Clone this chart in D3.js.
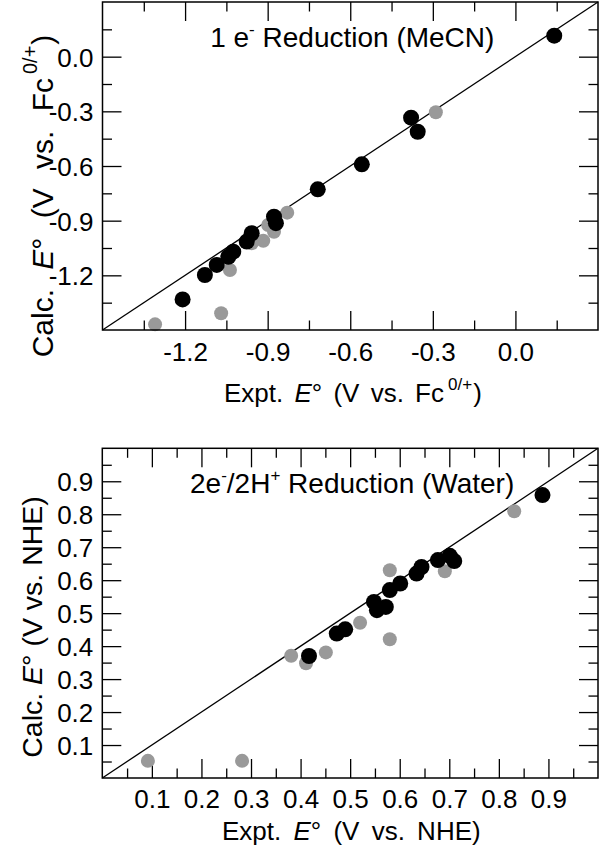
<!DOCTYPE html>
<html>
<head>
<meta charset="utf-8">
<script src="https://cdn.jsdelivr.net/npm/d3@7"></script>
<style>
  body { margin: 0; background: #fff; }
  svg { display: block; font-family: "Liberation Sans", Arial, Helvetica, sans-serif; }
  text { white-space: pre; }
</style>
</head>
<body>
<svg id="chart" width="600" height="845"></svg>
<script>
// panel 1: 1 e- reduction in MeCN, V vs Fc0/+
const mecnExptBlack = [0.141, -0.379, -0.355, -0.558, -0.718, -0.877, -0.870, -0.958, -0.976, -1.025, -1.043, -1.085, -1.128, -1.209];
const mecnCalcBlack = [0.115, -0.335, -0.412, -0.591, -0.728, -0.878, -0.914, -0.969, -1.015, -1.070, -1.098, -1.143, -1.198, -1.332];
const mecnExptGray = [-0.289, -0.829, -0.898, -0.877, -0.916, -0.958, -1.037, -1.069, -1.309];
const mecnCalcGray = [-0.305, -0.856, -0.924, -0.961, -1.010, -1.024, -1.171, -1.408, -1.469];
const mecnDomain = [-1.5, 0.3];
const mecnMajor = [-1.2, -0.9, -0.6, -0.3, 0.0];
const mecnMinor = [-1.35, -1.05, -0.75, -0.45, -0.15, 0.15];

// panel 2: 2e-/2H+ reduction in water, V vs NHE
const waterExptBlack = [0.888, 0.701, 0.710, 0.677, 0.644, 0.634, 0.601, 0.580, 0.572, 0.548, 0.554, 0.490, 0.473, 0.417];
const waterCalcBlack = [0.858, 0.674, 0.658, 0.661, 0.640, 0.620, 0.590, 0.570, 0.519, 0.534, 0.509, 0.451, 0.438, 0.370];
const waterExptGray = [0.831, 0.580, 0.691, 0.520, 0.580, 0.451, 0.381, 0.411, 0.092, 0.282];
const waterCalcGray = [0.809, 0.630, 0.627, 0.471, 0.421, 0.381, 0.371, 0.348, 0.052, 0.052];
const waterDomain = [0, 1];
const waterMajor = [0.1, 0.2, 0.3, 0.4, 0.5, 0.6, 0.7, 0.8, 0.9];
const waterMinor = [0.05, 0.15, 0.25, 0.35, 0.45, 0.55, 0.65, 0.75, 0.85, 0.95];

const svg = d3.select('#chart');
const fmt = d => d.toFixed(1); // plain hyphen, not d3's unicode minus
const MAJ = 19, MIN = 9.5;

// parts: [{t, it, sup}] -> tspans, superscripts shifted up by `shift`
function richText(sel, parts, supSize, shift) {
  let up = false;
  parts.forEach(p => {
    const ts = sel.append('tspan').text(p.t);
    if (p.it) ts.attr('font-style', 'italic');
    if (p.sup) {
      ts.attr('font-size', supSize);
      if (!up) { ts.attr('dy', -shift); up = true; }
    } else if (up) {
      ts.attr('dy', shift); up = false;
    }
    if (p.dx) ts.attr('dx', p.dx);
  });
  return sel;
}

function drawPanel(o) {
  const x = d3.scaleLinear().domain(o.domain).range([o.left, o.right]);
  const y = d3.scaleLinear().domain(o.domain).range([o.bottom, o.top]);
  const g = svg.append('g');

  const sides = [
    [d3.axisBottom, x, `translate(0,${o.bottom})`, true],
    [d3.axisTop, x, `translate(0,${o.top})`, false],
    [d3.axisLeft, y, `translate(${o.left},0)`, true],
    [d3.axisRight, y, `translate(${o.right},0)`, false]
  ];
  sides.forEach(([axisFn, scale, tr, labelled]) => {
    [[o.minor, MIN, false], [o.major, MAJ, labelled]].forEach(([vals, size, lab]) => {
      const ax = g.append('g')
        .attr('transform', tr)
        .call(axisFn(scale).tickValues(vals).tickSize(-size).tickPadding(0)
          .tickFormat(lab ? fmt : ''));
      ax.select('.domain').remove();
      ax.attr('font-family', null).attr('font-size', 26);
      ax.selectAll('line').attr('stroke', '#000').attr('stroke-width', 1.3);
      if (!lab) { ax.selectAll('text').remove(); return; }
      if (axisFn === d3.axisBottom) ax.selectAll('text').attr('dy', null).attr('y', o.xLabelY);
      if (axisFn === d3.axisLeft) ax.selectAll('text').attr('x', -9).attr('dy', '0.36em');
    });
  });

  // y = x reference line
  g.append('line')
    .attr('x1', x(o.domain[0])).attr('y1', y(o.domain[0]))
    .attr('x2', x(o.domain[1])).attr('y2', y(o.domain[1]))
    .attr('stroke', '#000').attr('stroke-width', 1.3);

  g.append('g').selectAll('circle')
    .data(d3.zip(o.exptGray, o.calcGray))
    .join('circle')
    .attr('cx', d => x(d[0])).attr('cy', d => y(d[1]))
    .attr('r', 7).attr('fill', '#999');

  g.append('g').selectAll('circle')
    .data(d3.zip(o.exptBlack, o.calcBlack))
    .join('circle')
    .attr('cx', d => x(d[0])).attr('cy', d => y(d[1]))
    .attr('r', 8).attr('fill', '#000');

  g.append('rect')
    .attr('x', o.left).attr('y', o.top)
    .attr('width', o.right - o.left).attr('height', o.bottom - o.top)
    .attr('fill', 'none').attr('stroke', '#000').attr('stroke-width', 1.5);

  richText(g.append('text')
    .attr('x', (o.left + o.right) / 2 + 2).attr('y', o.top + o.titleDy)
    .attr('text-anchor', 'middle').attr('font-size', 28),
    o.title, 17, 12);

  richText(g.append('text')
    .attr('x', o.xTitleX).attr('y', o.bottom + o.xTitleDy)
    .attr('font-size', 26).style('word-spacing', o.xTitleSpacing + 'px'),
    o.xTitle, 17, 12);

  richText(g.append('text')
    .attr('transform', `translate(${o.yTitleX},${o.yTitleY}) rotate(-90)`)
    .attr('text-anchor', 'middle').attr('font-size', o.yTitleSize)
    .style('word-spacing', o.yTitleSpacing + 'px'),
    o.yTitle, 20, 16);
}

drawPanel({
  domain: mecnDomain, major: mecnMajor, minor: mecnMinor,
  exptBlack: mecnExptBlack, calcBlack: mecnCalcBlack,
  exptGray: mecnExptGray, calcGray: mecnCalcGray,
  left: 102.5, right: 598, top: 2, bottom: 330,
  xLabelY: 31, titleDy: 45,
  title: [{t: '1 e'}, {t: '-', sup: true}, {t: ' Reduction (MeCN)'}],
  xTitleX: 224, xTitleDy: 72, xTitleSpacing: 4,
  xTitle: [{t: 'Expt. '}, {t: 'E', it: true}, {t: '° (V vs. Fc'}, {t: '0/+', sup: true, dx: 4}, {t: ')', dx: 1}],
  yTitleX: 53, yTitleY: 196, yTitleSize: 30, yTitleSpacing: 11,
  yTitle: [{t: 'Calc. '}, {t: 'E', it: true}, {t: '° (V vs. Fc'}, {t: '0/+', sup: true, dx: 4}, {t: ')', dx: 1}]
});

drawPanel({
  domain: waterDomain, major: waterMajor, minor: waterMinor,
  exptBlack: waterExptBlack, calcBlack: waterCalcBlack,
  exptGray: waterExptGray, calcGray: waterCalcGray,
  left: 102.3, right: 598, top: 448.3, bottom: 778,
  xLabelY: 30, titleDy: 45,
  title: [{t: '2e'}, {t: '-', sup: true}, {t: '/2H'}, {t: '+', sup: true}, {t: ' Reduction (Water)'}],
  xTitleX: 222, xTitleDy: 62, xTitleSpacing: 5,
  xTitle: [{t: 'Expt. '}, {t: 'E', it: true}, {t: '° (V vs. NHE)'}],
  yTitleX: 42, yTitleY: 627, yTitleSize: 28.5, yTitleSpacing: 0,
  yTitle: [{t: 'Calc. '}, {t: 'E', it: true}, {t: '° (V vs. NHE)'}]
});
</script>
</body>
</html>
